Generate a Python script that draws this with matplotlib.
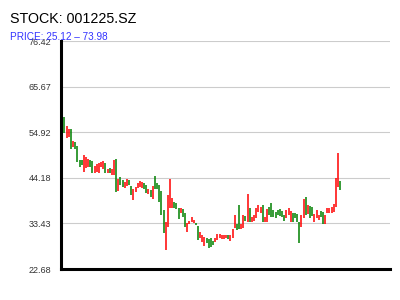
import numpy as np
import matplotlib
matplotlib.use("Agg")
import matplotlib.pyplot as plt

plt.rcParams["font.family"] = ["Liberation Sans", "DejaVu Sans"]

# daily open / close
opens = [60.93, 58.43, 53.62, 53.79, 55.60, 51.36, 52.54, 51.67, 48.37, 48.37,
         45.61, 46.41, 46.79, 48.37, 48.13, 45.23, 45.61, 45.23, 46.79, 46.25,
         47.59, 45.37, 46.48, 44.83, 44.83, 48.60, 41.13, 44.29, 43.65, 41.70,
         42.24, 43.65, 42.24, 38.94, 40.90, 41.70, 41.93, 41.70, 42.88, 42.48,
         40.35, 41.30, 39.18, 44.60, 43.02, 42.48, 41.13, 36.58, 27.15, 32.51,
         36.98, 36.98, 38.54, 38.30, 36.98, 35.81, 36.75, 35.95, 31.47, 33.28,
         33.83, 33.45, 33.59, 32.81, 30.05, 29.11, 28.17, 30.05, 29.68, 29.91,
         29.35, 28.97, 29.51, 29.91, 29.75, 29.75, 29.98, 30.69, 29.28, 29.91,
         32.27, 33.21, 37.76, 32.03, 32.41, 35.24, 33.83, 36.98, 33.83, 33.99,
         34.63, 36.04, 35.81, 37.76, 33.68, 33.83, 37.36, 38.16, 36.58, 36.18,
         36.58, 36.82, 36.35, 35.40, 34.77, 35.40, 33.83, 35.81, 35.81, 35.57,
         33.83, 32.65, 34.77, 39.58, 35.57, 37.53, 37.36, 33.83, 34.77, 34.23,
         36.35, 36.18, 33.21, 35.81, 35.81, 35.81, 36.18, 37.36, 42.07, 43.42]
closes = [57.16, 54.66, 56.45, 55.67, 50.89, 52.92, 50.89, 47.97, 46.79, 47.19,
          49.55, 49.15, 48.53, 46.79, 45.37, 46.95, 47.35, 47.59, 47.97, 48.13,
          45.37, 46.25, 45.23, 46.18, 48.37, 40.90, 43.82, 42.48, 42.07, 43.25,
          43.82, 42.48, 40.12, 41.53, 41.93, 42.88, 43.35, 43.11, 41.46, 40.52,
          41.46, 39.58, 42.31, 41.53, 41.46, 38.54, 35.40, 31.09, 33.83, 40.12,
          43.89, 39.34, 36.98, 36.75, 34.46, 37.13, 35.00, 32.51, 33.45, 33.99,
          34.86, 34.23, 33.05, 29.51, 31.47, 30.69, 30.15, 28.73, 27.70, 27.93,
          28.33, 29.91, 30.93, 30.86, 30.69, 30.69, 30.69, 29.75, 30.69, 32.10,
          35.40, 31.87, 32.03, 33.21, 35.40, 33.99, 40.28, 33.83, 35.00, 35.40,
          37.13, 37.76, 37.36, 33.68, 35.00, 36.82, 35.40, 35.00, 35.00, 34.63,
          35.40, 35.24, 35.00, 33.99, 36.58, 36.98, 36.35, 33.68, 34.63, 33.68,
          28.73, 35.40, 39.18, 35.40, 37.76, 34.63, 35.24, 35.57, 36.58, 35.40,
          35.00, 33.28, 35.40, 36.98, 36.98, 37.36, 37.93, 44.05, 49.95, 41.30]

yticks = [22.68, 33.43, 44.18, 54.92, 65.67, 76.42]
title = "STOCK: 001225.SZ"
subtitle = "PRICE: 25.12 \u2013 73.98"

o = np.array(opens)
c = np.array(closes)
x = np.arange(len(o))
cols = np.where(c >= o, "#ff0000", "#008000")

fig = plt.figure(figsize=(4, 3), dpi=100)
ax = fig.add_axes([0.1525, 0.1033, 0.8225, 0.76])
ax.vlines(x, np.minimum(o, c), np.maximum(o, c), colors=cols, lw=1.1)

ax.set_xlim(-0.6, 152.1)
ax.set_ylim(yticks[0], yticks[-1])
ax.set_yticks(yticks)
ax.set_yticklabels([f"{v:.2f}" for v in yticks], fontsize=6.5, color="#333333")
ax.set_xticks([])
ax.tick_params(axis="y", length=0, pad=7)
ax.grid(axis="y", color="#cccccc", lw=0.8)
ax.set_axisbelow(True)
for s in ["top", "right"]:
    ax.spines[s].set_visible(False)
for s in ["left", "bottom"]:
    ax.spines[s].set_linewidth(2.2)

# the top tick label sits under the subtitle, as in the reference
fig.text(0.025, 0.937, title, fontsize=10.3, ha="left", va="center")
fig.text(0.025, 0.877, subtitle, fontsize=7.2, color="#3333ff", ha="left", va="center")

fig.savefig("out.png", dpi=100)
